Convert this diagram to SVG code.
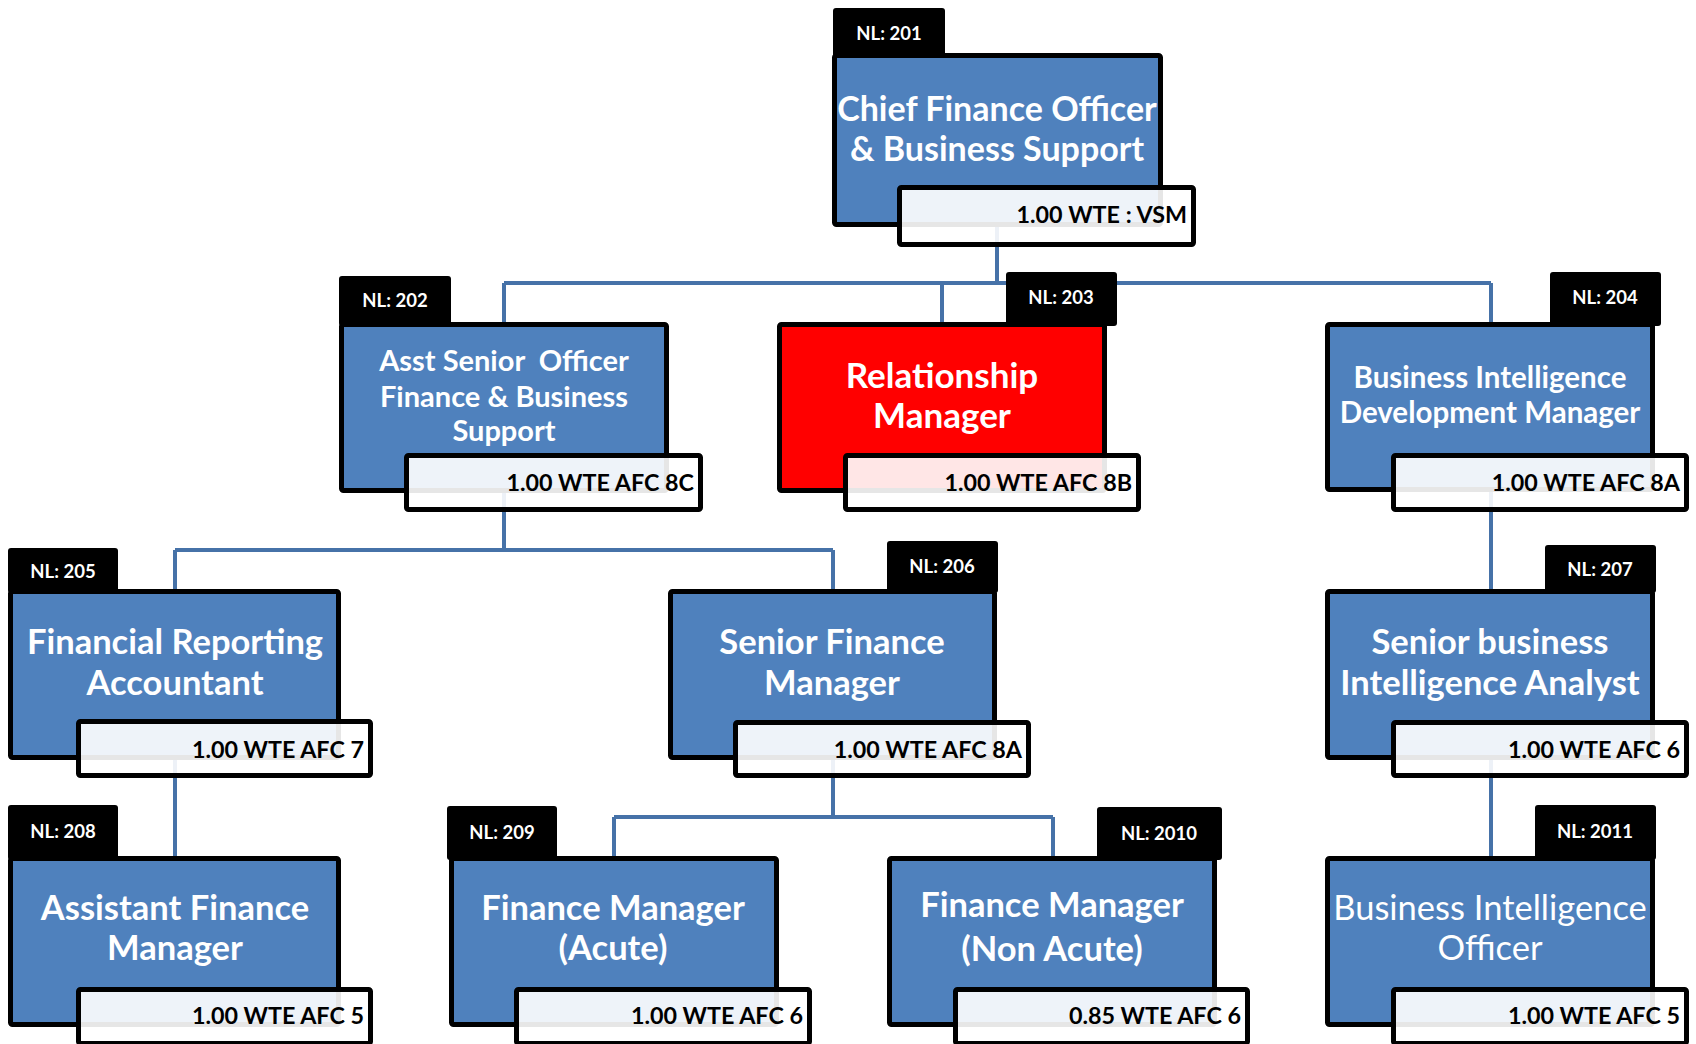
<svg xmlns="http://www.w3.org/2000/svg" width="1696" height="1044" viewBox="0 0 1696 1044">
<style>
.tab{fill:#000}
.box{fill:#4F81BD;stroke:#000;stroke-width:5}
.red{fill:#FF0000}
.lab{fill:#fff;fill-opacity:0.9;stroke:#000;stroke-width:5}
.t{font-family:Lato,"Liberation Sans",sans-serif;font-weight:bold;fill:#fff;text-anchor:middle;white-space:pre}
.reg{font-weight:normal}
.nl{font-family:Lato,"Liberation Sans",sans-serif;font-weight:bold;fill:#fff;font-size:18.5px;text-anchor:middle}
.w{font-family:Lato,"Liberation Sans",sans-serif;font-weight:bold;fill:#000;font-size:23.3px;text-anchor:end}
.c{fill:none;stroke:#4672A8;stroke-width:4}
</style>
<rect width="1696" height="1044" fill="#fff"/>
<g id="connectors" class="c">
<path d="M997,227 V283 M504,283 H1491 M504,283 V322 M942,283 V322 M1491,283 V322"/>
<path d="M504,493 V550 M175,550 H833 M175,550 V589 M833,550 V589"/>
<path d="M1491,492 V589"/>
<path d="M175,760 V856"/>
<path d="M833,760 V817 M614,817 H1053 M614,817 V856 M1053,817 V856"/>
<path d="M1491,760 V856"/>
</g>
<g id="n201">
<rect class="tab" x="833" y="8" width="112" height="50" rx="3"/>
<rect class="box" x="834.5" y="55.5" width="326" height="169" rx="2"/>
<text class="t" font-size="34" x="997" y="121">Chief Finance Officer</text>
<text class="t" font-size="34" x="997" y="161">&amp; Business Support</text>
<text class="nl" x="889" y="40">NL: 201</text>
<rect class="lab" x="899.5" y="187.5" width="294" height="57" rx="2"/>
<text class="w" x="1187" y="223">1.00 WTE : VSM</text>
</g>
<g id="n202">
<rect class="tab" x="339" y="276" width="112" height="50" rx="3"/>
<rect class="box" x="341.5" y="324.5" width="325" height="166" rx="2"/>
<text class="t" font-size="29" x="504" y="371" xml:space="preserve">Asst Senior  Officer</text>
<text class="t" font-size="29" x="504" y="407">Finance &amp; Business</text>
<text class="t" font-size="29" x="504" y="441">Support</text>
<text class="nl" x="395" y="307">NL: 202</text>
<rect class="lab" x="406.5" y="455.5" width="294" height="54" rx="2"/>
<text class="w" x="694" y="491">1.00 WTE AFC 8C</text>
</g>
<g id="n203">
<rect class="tab" x="1006" y="272" width="111" height="54" rx="3"/>
<rect class="box red" x="779.5" y="324.5" width="325" height="166" rx="2"/>
<text class="t" font-size="35" x="942" y="388">Relationship</text>
<text class="t" font-size="35" x="942" y="428">Manager</text>
<text class="nl" x="1061" y="304">NL: 203</text>
<rect class="lab" x="845.5" y="455.5" width="293" height="54" rx="2"/>
<text class="w" x="1132" y="491">1.00 WTE AFC 8B</text>
</g>
<g id="n204">
<rect class="tab" x="1550" y="272" width="111" height="54" rx="3"/>
<rect class="box" x="1327.5" y="324.5" width="325" height="165" rx="2"/>
<text class="t" font-size="29.5" x="1490" y="388">Business Intelligence</text>
<text class="t" font-size="29.5" x="1490" y="423">Development Manager</text>
<text class="nl" x="1605" y="304">NL: 204</text>
<rect class="lab" x="1393.5" y="455.5" width="293" height="54" rx="2"/>
<text class="w" x="1680" y="491">1.00 WTE AFC 8A</text>
</g>
<g id="n205">
<rect class="tab" x="8" y="548" width="110" height="45" rx="3"/>
<rect class="box" x="10.5" y="591.5" width="328" height="166" rx="2"/>
<text class="t" font-size="34.5" x="175" y="654">Financial Reporting</text>
<text class="t" font-size="34.5" x="175" y="695">Accountant</text>
<text class="nl" x="63" y="578">NL: 205</text>
<rect class="lab" x="78.5" y="721.5" width="292" height="54" rx="2"/>
<text class="w" x="364" y="758">1.00 WTE AFC 7</text>
</g>
<g id="n206">
<rect class="tab" x="887" y="541" width="111" height="52" rx="3"/>
<rect class="box" x="670.5" y="591.5" width="324" height="166" rx="2"/>
<text class="t" font-size="34.5" x="832" y="654">Senior Finance</text>
<text class="t" font-size="34.5" x="832" y="695">Manager</text>
<text class="nl" x="942" y="573">NL: 206</text>
<rect class="lab" x="735.5" y="722.5" width="293" height="53" rx="2"/>
<text class="w" x="1022" y="758">1.00 WTE AFC 8A</text>
</g>
<g id="n207">
<rect class="tab" x="1545" y="545" width="111" height="48" rx="3"/>
<rect class="box" x="1327.5" y="591.5" width="325" height="166" rx="2"/>
<text class="t" font-size="34.5" x="1490" y="654">Senior business</text>
<text class="t" font-size="34.5" x="1490" y="695">Intelligence Analyst</text>
<text class="nl" x="1600" y="576">NL: 207</text>
<rect class="lab" x="1393.5" y="722.5" width="293" height="53" rx="2"/>
<text class="w" x="1680" y="758">1.00 WTE AFC 6</text>
</g>
<g id="n208">
<rect class="tab" x="8" y="805" width="110" height="55" rx="3"/>
<rect class="box" x="10.5" y="858.5" width="328" height="166" rx="2"/>
<text class="t" font-size="34.5" x="175" y="920">Assistant Finance</text>
<text class="t" font-size="34.5" x="175" y="960">Manager</text>
<text class="nl" x="63" y="838">NL: 208</text>
<rect class="lab" x="78.5" y="989.5" width="292" height="54" rx="2"/>
<text class="w" x="364" y="1024">1.00 WTE AFC 5</text>
</g>
<g id="n209">
<rect class="tab" x="447" y="806" width="110" height="54" rx="3"/>
<rect class="box" x="451.5" y="858.5" width="325" height="166" rx="2"/>
<text class="t" font-size="34.5" x="613" y="920">Finance Manager</text>
<text class="t" font-size="34.5" x="613" y="960">(Acute)</text>
<text class="nl" x="502" y="839">NL: 209</text>
<rect class="lab" x="516.5" y="989.5" width="293" height="54" rx="2"/>
<text class="w" x="803" y="1024">1.00 WTE AFC 6</text>
</g>
<g id="n2010">
<rect class="tab" x="1097" y="807" width="125" height="53" rx="3"/>
<rect class="box" x="889.5" y="858.5" width="325" height="166" rx="2"/>
<text class="t" font-size="34.5" x="1052" y="917">Finance Manager</text>
<text class="t" font-size="34.5" x="1052" y="961">(Non Acute)</text>
<text class="nl" x="1159" y="840">NL: 2010</text>
<rect class="lab" x="955.5" y="989.5" width="292" height="54" rx="2"/>
<text class="w" x="1241" y="1024">0.85 WTE AFC 6</text>
</g>
<g id="n2011">
<rect class="tab" x="1535" y="805" width="121" height="55" rx="3"/>
<rect class="box" x="1327.5" y="858.5" width="325" height="166" rx="2"/>
<text class="t reg" font-size="34.5" x="1490" y="920">Business Intelligence</text>
<text class="t reg" font-size="34.5" x="1490" y="960">Officer</text>
<text class="nl" x="1595" y="838">NL: 2011</text>
<rect class="lab" x="1393.5" y="989.5" width="293" height="54" rx="2"/>
<text class="w" x="1680" y="1024">1.00 WTE AFC 5</text>
</g>
</svg>
